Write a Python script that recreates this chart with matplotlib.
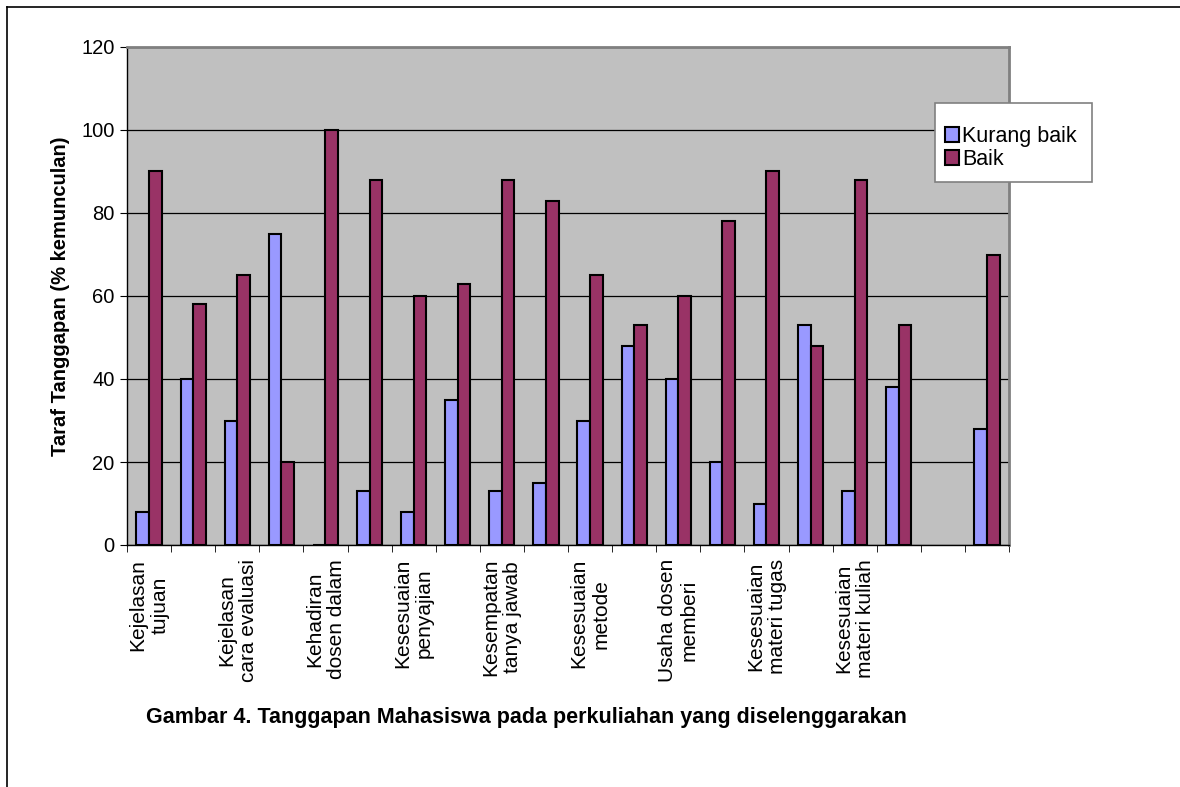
import numpy as np
import matplotlib
matplotlib.use("Agg")
import matplotlib.pyplot as plt
from matplotlib.lines import Line2D
from matplotlib.patches import Rectangle

plt.rcParams['font.family'] = ['Liberation Sans', 'DejaVu Sans']

# kategori (hanya sebagian yang diberi label)
labels = ['Kejelasan\ntujuan', '', 'Kejelasan\ncara evaluasi', '',
          'Kehadiran\ndosen dalam', '', 'Kesesuaian\npenyajian', '',
          'Kesempatan\ntanya jawab', '', 'Kesesuaian\nmetode', '',
          'Usaha dosen\nmemberi', '', 'Kesesuaian\nmateri tugas', '',
          'Kesesuaian\nmateri kuliah', '', '', '']
kurang_baik = [8, 40, 30, 75, 0, 13, 8, 35, 13, 15, 30, 48, 40, 20, 10, 53, 13, 38, np.nan, 28]
baik = [90, 58, 65, 20, 100, 88, 60, 63, 88, 83, 65, 53, 60, 78, 90, 48, 88, 53, np.nan, 70]
yticks = [0, 20, 40, 60, 80, 100, 120]

W, H = 1180, 787
fig = plt.figure(figsize=(W/100, H/100), dpi=100)
ax = fig.add_axes([127/W, 1-545/H, 882/W, 498/H])
ax.set_facecolor('#C0C0C0')

x = np.arange(len(labels))
w = 1/3.5
ax.bar(x - w/2, kurang_baik, w, color='#9999FF', edgecolor='black', linewidth=1.5,
       label='Kurang baik', zorder=3)
ax.bar(x + w/2, baik, w, color='#993366', edgecolor='black', linewidth=1.5,
       label='Baik', zorder=3)

ax.set_xlim(-0.5, len(labels) - 0.5)
ax.set_ylim(0, 120)
ax.set_yticks(yticks)
ax.yaxis.grid(True, color='black', linewidth=0.9, zorder=1)
ax.tick_params(axis='y', labelsize=14.5, length=5, direction='out', pad=4)

# label kategori di tengah, tanda tick di batas kategori
ax.set_xticks(x)
ax.set_xticklabels(labels, rotation=90, fontsize=15, ha='center', va='top',
                   multialignment='center')
ax.tick_params(axis='x', which='major', length=0, pad=10)
ax.set_xticks(np.arange(-0.5, len(labels)), minor=True)
ax.tick_params(axis='x', which='minor', length=5, direction='out')

for s in ['top', 'right']:
    ax.spines[s].set_color('#808080')
    ax.spines[s].set_linewidth(2)
ax.spines['left'].set_linewidth(1)
ax.spines['bottom'].set_linewidth(1)

ax.set_ylabel('Taraf Tanggapan (% kemunculan)', fontsize=14.5, fontweight='bold', labelpad=8)

# kotak legenda digambar sendiri, legenda tanpa bingkai di dalamnya
fig.add_artist(Rectangle((935/W, 1-182/H), 157/W, 79/H, transform=fig.transFigure,
                         facecolor='white', edgecolor='#808080', linewidth=1.2, zorder=4))
leg = fig.legend(*ax.get_legend_handles_labels(), loc='upper left',
                 bbox_to_anchor=(945/W, 1-126/H), fontsize=15.5, frameon=False,
                 handlelength=0.65, handleheight=0.65, handletextpad=0.15,
                 labelspacing=0.1, borderpad=0, borderaxespad=0)
leg.set_zorder(5)

fig.text(146/W, 1-718/H,
         'Gambar 4. Tanggapan Mahasiswa pada perkuliahan yang diselenggarakan',
         fontsize=15.5, fontweight='bold', ha='left', va='center')

# bingkai luar
fig.add_artist(Line2D([7/W, 1], [1-7/H, 1-7/H], color='black', linewidth=1.2))
fig.add_artist(Line2D([7/W, 7/W], [0, 1-7/H], color='black', linewidth=1.2))

fig.savefig('out.png', dpi=100)
